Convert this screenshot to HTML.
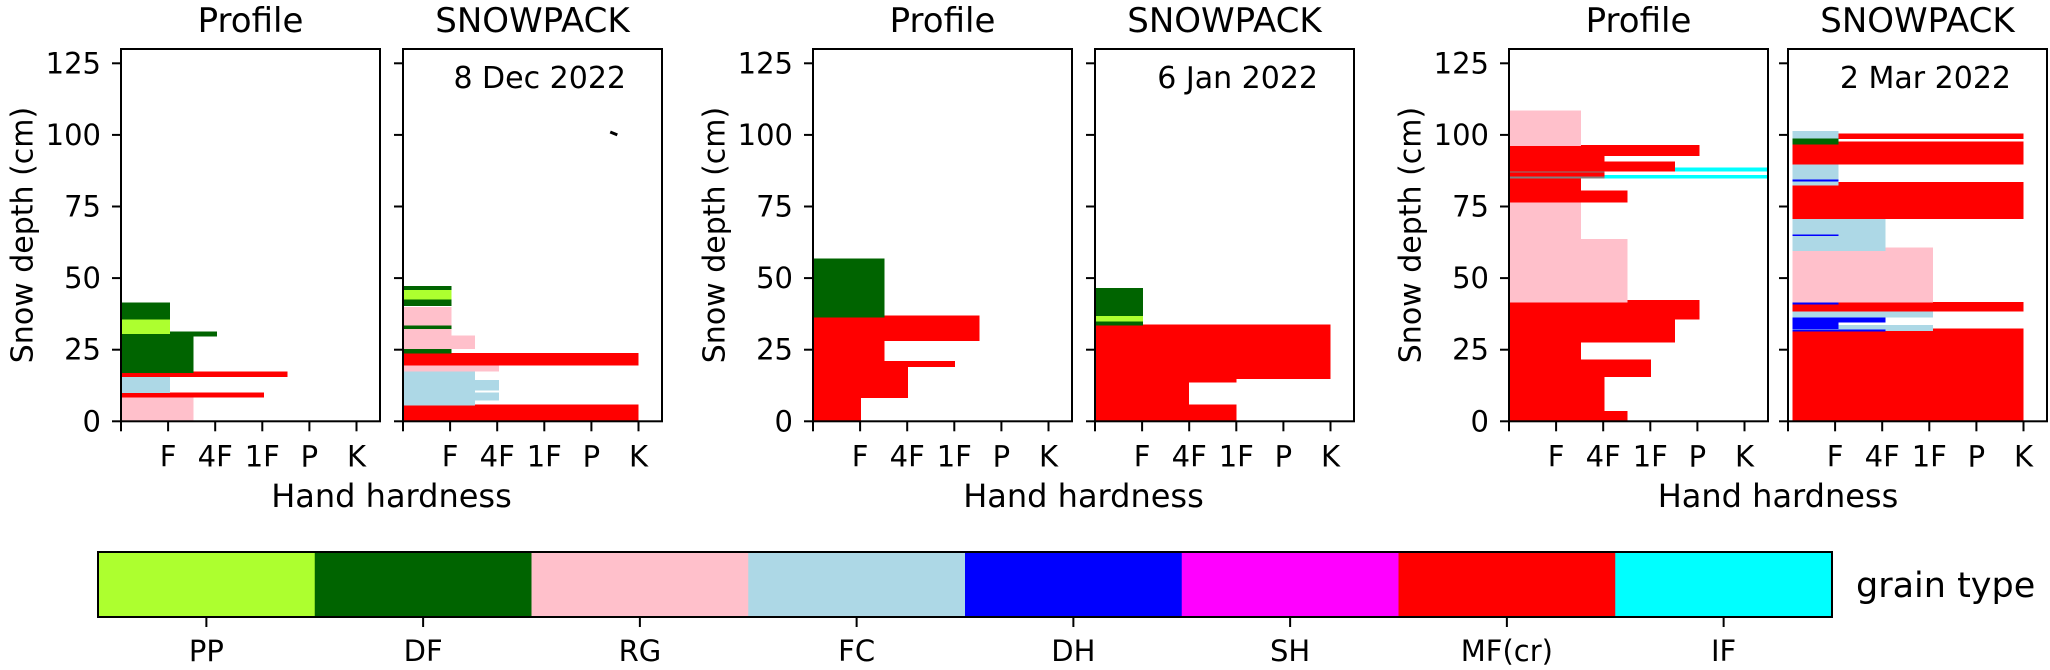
<!DOCTYPE html>
<html><head><meta charset="utf-8"><style>
html,body{margin:0;padding:0;background:#fff;}
svg{display:block;font-family:"DejaVu Sans","Liberation Sans",sans-serif;}
</style></head><body>
<svg id="s" width="2050" height="670" viewBox="0 0 2050 670" xmlns="http://www.w3.org/2000/svg"></svg>
<script>
const S=document.getElementById('s');let o='';
const C={PP:'#adff2f',DF:'#006400',RG:'#ffc0cb',FC:'#add8e6',DH:'#0000ff',SH:'#ff00ff',MF:'#ff0000',IF:'#00ffff'};
const W=259,T=49,Y0=421.3,K=2.864,HX=47.1;
const yc=c=>Y0-K*c;
function bars(ax,list){for(const b of list){const [c,lo,hi,h,h0]=b;const x0=ax+(h0||0)*HX;const x1=Math.min(ax+h*HX,ax+W);
o+=`<rect shape-rendering="crispEdges" x="${x0}" y="${yc(hi)-0.3}" width="${x1-x0}" height="${K*(hi-lo)+0.6}" fill="${C[c]||c}"/>`;}}
function axes(ax,labels,title,date,ylabel){
o+=`<rect x="${ax}" y="${T}" width="${W}" height="${Y0-T}" fill="none" stroke="#000" stroke-width="2"/>`;
for(let v=0;v<=125;v+=25){const y=yc(v);o+=`<line x1="${ax-9}" y1="${y}" x2="${ax}" y2="${y}" stroke="#000" stroke-width="2"/>`;
if(labels)o+=`<text x="${ax-20}" y="${y+10}" font-size="29" text-anchor="end">${v}</text>`;}
const L=['','F','4F','1F','P','K'];
for(let i=0;i<6;i++){const x=ax+i*HX;o+=`<line x1="${x}" y1="${Y0}" x2="${x}" y2="${Y0+10}" stroke="#000" stroke-width="2"/>`;
if(L[i])o+=`<text x="${x}" y="${Y0+45}" font-size="29" text-anchor="middle">${L[i]}</text>`;}
o+=`<text x="${ax+W/2}" y="32" font-size="34" text-anchor="middle">${title}</text>`;
if(date)o+=`<text x="${ax+W-36}" y="88" font-size="30" text-anchor="end">${date}</text>`;
if(ylabel)o+=`<text transform="translate(${ax-98},235) rotate(-90)" font-size="30" text-anchor="middle" dominant-baseline="central">Snow depth (cm)</text>`;
}
const P=[121,403,813,1095,1509,1788];
bars(P[0],[['RG',0,8.5,1.54],['MF',8.5,10,3.04],['FC',10,15.6,1.04],['MF',15.6,17.2,3.53],['DF',17,29.8,1.54],['DF',29.8,31.3,2.04],['DF',31,41.4,1.04],['PP',30.6,35.4,1.04]]);
bars(P[1],[['MF',0,5.7,5.0],['FC',5.7,17.5,1.53],['FC',7.4,9.9,2.04,1.53],['FC',10.9,14.4,2.04,1.53],['RG',17.5,19.6,2.04],['MF',19.6,23.7,5.0],['DF',23.7,25.4,1.03],['RG',25.3,29.8,1.53],['RG',29.8,32.3,1.03],['DF',32.3,33.6,1.03],['RG',33.6,39.8,1.03],['DF',40.3,42.6,1.03],['PP',42.6,46,1.03],['DF',46,47.1,1.03]]);
o+=`<line x1="${P[1]+4.4*HX}" y1="${yc(101)}" x2="${P[1]+4.55*HX}" y2="${yc(100)}" stroke="#000" stroke-width="3"/>`;
bars(P[2],[['MF',0,8.2,1.02],['MF',8.2,19.1,2.02],['MF',19.1,21,3.02],['MF',21,28.2,1.52],['MF',28.2,36.8,3.53],['DF',36.4,56.8,1.52]]);
bars(P[3],[['MF',0,5.8,3.0],['MF',5.8,13.6,2.0],['MF',13.6,14.8,3.0],['MF',14.8,33.7,5.0],['DF',33.5,46.5,1.02],['PP',35,36.7,1.02]]);
bars(P[4],[['MF',0,3.5,2.52],['MF',3.5,15.6,2.03],['MF',15.6,21.5,3.02],['MF',21.5,27.6,1.53],['MF',27.6,35.6,3.52],['MF',35.6,42.2,4.04],['RG',41.6,63.6,2.52],['RG',63.6,76.5,1.53],['MF',76.5,80.5,2.52],['MF',80.5,85.1,1.53],['MF',85.1,87.3,2.03],['#808080',86.9,87.3,2.03],['#808080',84.9,85.3,2.03],['MF',87.3,90.6,3.52],['MF',90.6,92.7,2.03],['MF',92.7,96.3,4.04],['RG',96.3,108.4,1.53],['IF',87.3,88.5,5.5,3.52],['IF',84.8,85.9,5.5,2.03]]);
bars(P[5],[['MF',0,32.3,5.0,0.1],['FC',31.7,33.5,3.08,0.1],['DH',31.5,32,2.07,0.1],['DH',32.3,36.4,1.07,0.1],['DH',34.6,36.4,2.07,0.1],['FC',36.4,38.4,3.08,0.1],['MF',38.4,41.6,5.0,0.1],['RG',41.6,60.5,3.08,0.1],['DH',40.8,41.3,1.07,0.1],['FC',59.5,70.8,2.07,0.1],['DH',64.8,65.2,1.07,0.1],['MF',70.8,83.4,5.0,0.1],['FC',82.4,89.7,1.07,0.1],['DH',83.8,84.3,1.07,0.1],['MF',89.7,97.6,5.0,0.1],['DF',96.7,98.8,1.07,0.1],['MF',98.6,100.3,5.0,1.07],['FC',98.8,101.3,1.07,0.1]]);
const titles=['Profile','SNOWPACK','Profile','SNOWPACK','Profile','SNOWPACK'];
const dates=[null,'8 Dec 2022',null,'6 Jan 2022',null,'2 Mar 2022'];
for(let i=0;i<6;i++)axes(P[i],i%2==0,titles[i],dates[i],i%2==0);
for(let i=0;i<3;i++){const cx=(P[2*i]+P[2*i+1]+W)/2;o+=`<text x="${cx}" y="507" font-size="32" text-anchor="middle">Hand hardness</text>`;}
const keys=['PP','DF','RG','FC','DH','SH','MF','IF'];
const cx0=98,cx1=1832,sw=(cx1-cx0)/8;
for(let i=0;i<8;i++){const x=cx0+i*sw;o+=`<rect x="${x}" y="552" width="${sw+0.5}" height="65" fill="${C[keys[i]]}"/>`;
o+=`<line x1="${x+sw/2}" y1="617" x2="${x+sw/2}" y2="627" stroke="#000" stroke-width="2"/>`;
o+=`<text x="${x+sw/2}" y="661" font-size="29" text-anchor="middle">${keys[i]==='MF'?'MF(cr)':keys[i]}</text>`;}
o+=`<rect x="${cx0}" y="552" width="${cx1-cx0}" height="65" fill="none" stroke="#000" stroke-width="2"/>`;
o+=`<text x="1856" y="597" font-size="35">grain type</text>`;
S.innerHTML=o;
</script>
</body></html>
